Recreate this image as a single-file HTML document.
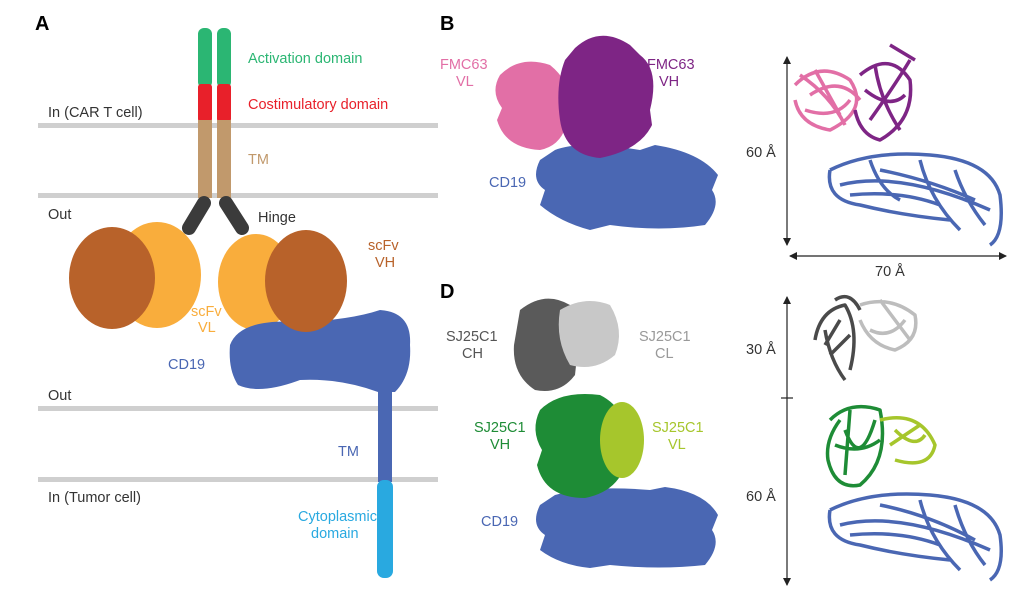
<!DOCTYPE html>
<html><head><meta charset="utf-8"><style>
html,body{margin:0;padding:0;background:#fff;}
svg{display:block;font-family:"Liberation Sans",sans-serif;}
</style></head><body>
<svg width="1019" height="606" viewBox="0 0 1019 606" xmlns="http://www.w3.org/2000/svg">
<defs>
<marker id="ar" markerWidth="8" markerHeight="8" refX="7" refY="4" orient="auto-start-reverse" markerUnits="userSpaceOnUse"><path d="M0,0 L8,4 L0,8 z" fill="#222"/></marker>
</defs>
<!-- Panel A -->
<text x="35" y="30" font-size="20" font-weight="bold">A</text>
<g fill="#cfcfcf">
<rect x="38" y="123" width="400" height="5"/>
<rect x="38" y="193" width="400" height="5"/>
<rect x="38" y="406" width="400" height="5"/>
<rect x="38" y="477" width="400" height="5"/>
</g>
<rect x="198" y="28" width="14" height="60" rx="6" fill="#2bb673"/>
<rect x="217" y="28" width="14" height="60" rx="6" fill="#2bb673"/>
<rect x="198" y="84" width="14" height="38" rx="3" fill="#e8202a"/>
<rect x="217" y="84" width="14" height="38" rx="3" fill="#e8202a"/>
<rect x="198" y="120" width="14" height="78" fill="#c1996c"/>
<rect x="217" y="120" width="14" height="78" fill="#c1996c"/>
<line x1="204" y1="203" x2="189" y2="228" stroke="#3b3b3b" stroke-width="14" stroke-linecap="round"/>
<line x1="226" y1="203" x2="242" y2="228" stroke="#3b3b3b" stroke-width="14" stroke-linecap="round"/>
<ellipse cx="157" cy="275" rx="44" ry="53" fill="#f9ad3c"/>
<ellipse cx="112" cy="278" rx="43" ry="51" fill="#b8622a"/>
<ellipse cx="256" cy="282" rx="38" ry="48" fill="#f9ad3c"/>
<path d="M230,345 Q240,318 300,322 Q350,320 380,310 Q412,312 410,345 Q412,375 395,392 L378,392 Q340,378 300,380 Q260,395 238,385 Q228,370 230,345 Z" fill="#4a67b3"/>
<ellipse cx="306" cy="281" rx="41" ry="51" fill="#b8622a"/>
<rect x="378" y="380" width="14" height="102" fill="#4a67b3"/>
<rect x="377" y="480" width="16" height="98" rx="7" fill="#29a9e0"/>
<g font-size="14.5">
<text x="248" y="63" fill="#2bb673">Activation domain</text>
<text x="248" y="109" fill="#e8202a">Costimulatory domain</text>
<text x="248" y="164" fill="#c1996c">TM</text>
<text x="258" y="222" fill="#333">Hinge</text>
<text x="48" y="117" fill="#333">In (CAR T cell)</text>
<text x="48" y="219" fill="#333">Out</text>
<text x="368" y="250" fill="#b8622a">scFv</text>
<text x="375" y="267" fill="#b8622a">VH</text>
<text x="191" y="316" fill="#f9ad3c">scFv</text>
<text x="198" y="332" fill="#f9ad3c">VL</text>
<text x="168" y="369" fill="#4a67b3">CD19</text>
<text x="48" y="400" fill="#333">Out</text>
<text x="338" y="456" fill="#4a67b3">TM</text>
<text x="48" y="502" fill="#333">In (Tumor cell)</text>
<text x="298" y="521" fill="#29a9e0">Cytoplasmic</text>
<text x="311" y="538" fill="#29a9e0">domain</text>
</g>
<!-- Panel B -->
<text x="440" y="30" font-size="20" font-weight="bold">B</text>
<path d="M540,160 L555,150 Q580,140 640,150 L655,145 Q700,152 718,175 L712,190 Q722,205 705,225 Q660,232 610,225 L590,230 Q560,222 540,205 L545,190 Q530,180 540,160 Z" fill="#4a67b3"/>
<path d="M500,75 Q520,55 550,65 Q575,85 568,115 Q565,145 540,150 Q505,148 497,120 L502,108 Q490,92 500,75 Z" fill="#e26fa6"/>
<path d="M565,60 L575,48 Q600,25 630,45 L640,55 Q660,70 650,110 L652,125 Q640,150 600,158 Q565,155 560,120 Q555,85 565,60 Z" fill="#7e2585"/>
<g font-size="14.5">
<text x="440" y="69" fill="#e26fa6">FMC63</text>
<text x="456" y="86" fill="#e26fa6">VL</text>
<text x="647" y="69" fill="#7e2585">FMC63</text>
<text x="659" y="86" fill="#7e2585">VH</text>
<text x="489" y="187" fill="#4a67b3">CD19</text>
</g>
<g fill="none" stroke-width="3.5" stroke-linejoin="round">
<path d="M795,85 Q820,60 850,80 Q870,110 830,130 Q800,125 795,100 M810,95 Q840,75 860,100 M805,110 Q835,120 850,100 M800,75 Q830,95 845,125 M815,70 L840,115" stroke="#e26fa6"/>
<path d="M860,75 Q890,50 910,80 Q915,120 880,140 Q860,135 855,110 M865,90 Q890,110 905,95 M870,120 Q895,85 910,60 M875,65 Q880,100 900,130 M890,45 L915,60" stroke="#7e2585"/>
<path d="M830,170 Q870,150 930,155 Q990,160 1000,195 Q1005,235 990,245 M830,170 Q825,200 860,205 Q900,215 950,220 M840,185 Q900,170 990,210 M870,160 Q880,190 900,200 M920,160 Q930,200 960,230 M850,195 Q900,190 940,205 M880,170 Q930,180 975,200 M955,170 Q965,200 985,225" stroke="#4a67b3"/>
</g>
<line x1="787" y1="57" x2="787" y2="245" stroke="#222" stroke-width="1.2" marker-start="url(#ar)" marker-end="url(#ar)"/>
<text x="746" y="157" font-size="14.5" fill="#333">60 Å</text>
<line x1="790" y1="256" x2="1006" y2="256" stroke="#222" stroke-width="1.2" marker-start="url(#ar)" marker-end="url(#ar)"/>
<text x="875" y="276" font-size="14.5" fill="#333">70 Å</text>
<!-- Panel D -->
<text x="440" y="298" font-size="20" font-weight="bold">D</text>
<path d="M540,505 L555,495 Q590,485 650,490 L665,487 Q705,492 718,515 L712,530 Q722,545 705,565 Q660,570 610,565 L590,568 Q560,565 540,550 L545,535 Q530,525 540,505 Z" fill="#4a67b3"/>
<path d="M540,410 Q560,390 600,395 Q630,410 628,450 Q625,490 585,498 Q545,498 537,465 L542,450 Q530,430 540,410 Z" fill="#1e8c36"/>
<ellipse cx="622" cy="440" rx="22" ry="38" fill="#a6c62c"/>
<path d="M520,310 Q545,290 570,305 Q580,340 575,375 Q560,395 535,390 Q512,375 514,345 Z" fill="#5a5a5a"/>
<path d="M560,310 Q585,295 610,305 Q625,330 615,355 Q595,372 570,365 Q555,340 560,310 Z" fill="#c8c8c8"/>
<g font-size="14.5">
<text x="446" y="341" fill="#555">SJ25C1</text>
<text x="462" y="358" fill="#555">CH</text>
<text x="639" y="341" fill="#999">SJ25C1</text>
<text x="655" y="358" fill="#999">CL</text>
<text x="474" y="432" fill="#1e8c36">SJ25C1</text>
<text x="490" y="449" fill="#1e8c36">VH</text>
<text x="652" y="432" fill="#a6c62c">SJ25C1</text>
<text x="668" y="449" fill="#a6c62c">VL</text>
<text x="481" y="526" fill="#4a67b3">CD19</text>
</g>
<g fill="none" stroke-width="3.5" stroke-linejoin="round">
<path d="M815,340 Q820,310 845,305 Q860,330 850,370 M825,330 Q830,360 845,380 M835,300 Q850,290 860,310 M830,355 L850,335 M840,320 L825,345" stroke="#4a4a4a"/>
<path d="M860,305 Q890,295 915,315 Q920,340 895,350 Q870,345 860,320 M870,330 Q890,340 905,320 M880,300 Q895,320 910,340" stroke="#bdbdbd"/>
<path d="M830,420 Q850,400 880,410 Q890,460 860,485 Q835,490 828,460 Q825,440 840,420 M845,430 Q860,470 875,420 M835,445 Q860,455 880,440 M850,410 L845,475" stroke="#1e8c36"/>
<path d="M880,420 Q920,410 935,445 Q930,470 895,460 M895,430 Q915,450 925,435 M890,445 L920,425" stroke="#a6c62c"/>
<path d="M830,510 Q870,490 930,495 Q990,500 1000,535 Q1005,570 990,580 M830,510 Q825,540 860,545 Q900,555 950,560 M840,525 Q900,510 990,550 M920,500 Q930,540 960,570 M850,535 Q900,530 940,545 M880,505 Q930,515 975,540 M955,505 Q965,540 985,565" stroke="#4a67b3"/>
</g>
<line x1="787" y1="297" x2="787" y2="585" stroke="#222" stroke-width="1.2" marker-start="url(#ar)" marker-end="url(#ar)"/>
<line x1="781" y1="398" x2="793" y2="398" stroke="#222" stroke-width="1.2"/>
<text x="746" y="354" font-size="14.5" fill="#333">30 Å</text>
<text x="746" y="501" font-size="14.5" fill="#333">60 Å</text>
</svg>
</body></html>
